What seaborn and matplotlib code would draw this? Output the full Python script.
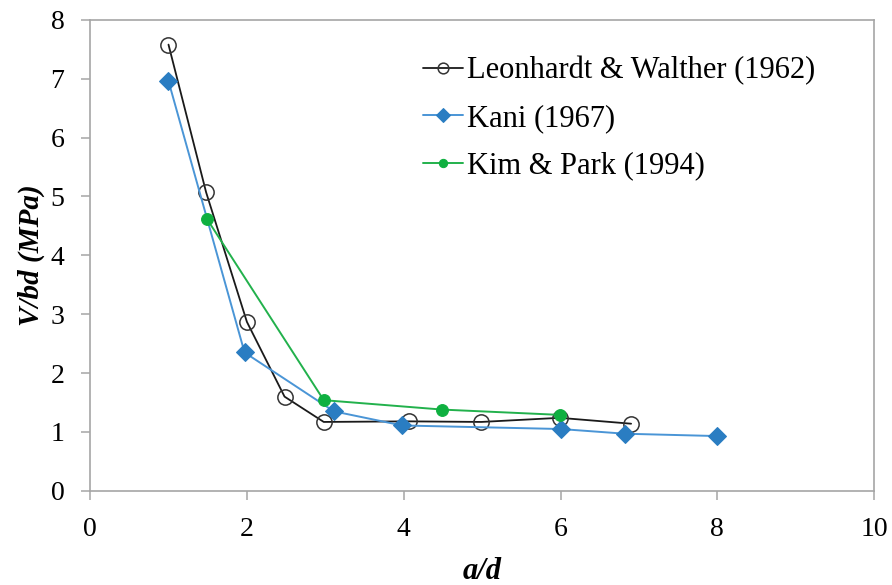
import pandas as pd
import seaborn as sns
import matplotlib.pyplot as plt

# Dados
leon_x = [1.0, 1.48, 2.0, 2.48, 2.98, 4.07, 4.99, 5.99, 6.9]
leon_y = [7.58, 5.07, 2.87, 1.60, 1.17, 1.18, 1.17, 1.24, 1.14]

kani_x = [1.0, 1.97, 3.11, 3.98, 6.0, 6.82, 8.0]
kani_y = [6.96, 2.35, 1.35, 1.11, 1.05, 0.97, 0.93]

kim_x = [1.49, 2.98, 4.49, 5.99]
kim_y = [4.62, 1.54, 1.38, 1.29]

labels = ['Leonhardt & Walther (1962)', 'Kani (1967)', 'Kim & Park (1994)']

sns.set_style('white')
plt.rcParams['font.family'] = ['Liberation Serif', 'DejaVu Serif']
plt.rcParams['text.color'] = 'black'
plt.rcParams['axes.labelcolor'] = 'black'

fig, ax = plt.subplots(figsize=(8.92, 5.85), dpi=100)
fig.subplots_adjust(left=0.101, right=0.980, top=0.966, bottom=0.161)

sns.lineplot(x=leon_x, y=leon_y, ax=ax, color='#1a1a1a', linewidth=1.3,
             marker='o', markersize=11, markerfacecolor='none',
             markeredgecolor='#333333', markeredgewidth=1.1,
             estimator=None, sort=False, label=labels[0])
sns.lineplot(x=kani_x, y=kani_y, ax=ax, color='#4a95d6', linewidth=1.4,
             marker='D', markersize=9.5, markerfacecolor='#2a7dc2',
             markeredgecolor='#2a7dc2',
             estimator=None, sort=False, label=labels[1])
sns.lineplot(x=kim_x, y=kim_y, ax=ax, color='#22b14c', linewidth=1.4,
             marker='o', markersize=8.5, markerfacecolor='#0fb040',
             markeredgecolor='#0fb040',
             estimator=None, sort=False, label=labels[2])

ax.set_xlim(0, 10)
ax.set_ylim(0, 8)
ax.set_xticks(range(0, 11, 2))
ax.set_yticks(range(0, 9))

for s in ax.spines.values():
    s.set_color('#a6a6a6')
    s.set_linewidth(1.2)

ax.tick_params(axis='both', direction='out', length=6.5, width=1.1,
               color='#a6a6a6', labelcolor='black', labelsize=20, pad=12)
ax.tick_params(axis='both', bottom=True, left=True)

# Labels
ax.set_xlabel('a/d', fontsize=22, fontweight='bold', style='italic', labelpad=11)
ax.set_ylabel('V/bd (MPa)', fontsize=21, fontweight='bold', style='italic', labelpad=4)

ax.legend(loc='upper left', bbox_to_anchor=(0.405, 0.955), frameon=False,
          fontsize=22, handlelength=1.3, handletextpad=0.15, labelspacing=0.6,
          borderpad=0, markerscale=0.7)

fig.savefig('out.png', dpi=100)
